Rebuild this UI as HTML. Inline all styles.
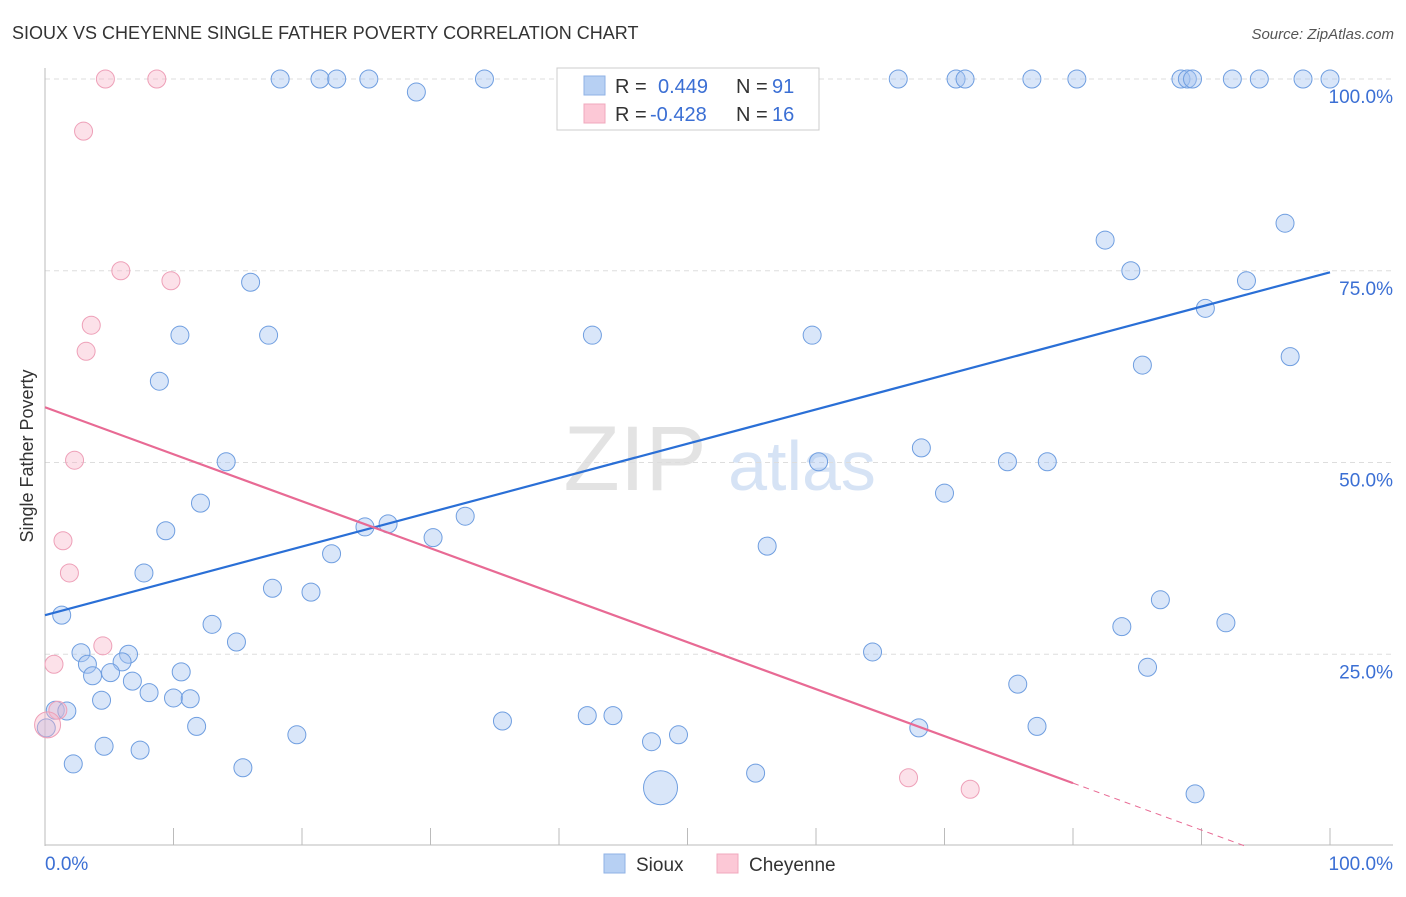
<!DOCTYPE html>
<html><head><meta charset="utf-8"><style>
body{margin:0;background:#fff;font-family:"Liberation Sans",sans-serif}
svg text{font-family:"Liberation Sans",sans-serif}
</style></head><body>
<svg id="c" width="1406" height="892">
<text x="12" y="39" font-size="18" fill="#333">SIOUX VS CHEYENNE SINGLE FATHER POVERTY CORRELATION CHART</text>
<text x="1394" y="39" font-size="15" fill="#555" font-style="italic" text-anchor="end">Source: ZipAtlas.com</text>
<text x="33" y="456" font-size="18" fill="#333" text-anchor="middle" transform="rotate(-90 33 456)">Single Father Poverty</text>
<g><text x="635" y="490" font-size="92" fill="#e3e3e3" font-family="Liberation Serif" text-anchor="middle">ZIP</text><text x="802" y="490" font-size="70" fill="#d6e3f5" text-anchor="middle">atlas</text></g>
<g id="grid"></g><g id="marks"></g>
<g>
<rect x="557" y="68" width="262" height="62" fill="#fff" stroke="#ccc"/>
<rect x="584" y="76" width="21" height="19" fill="#b7d0f3" stroke="#8fb2e6"/>
<rect x="584" y="104" width="21" height="19" fill="#fcc8d6" stroke="#f0a8bd"/>
<text x="615" y="93" font-size="20" fill="#333">R = </text><text x="658" y="93" font-size="20" fill="#3b6fd4">0.449</text>
<text x="736" y="93" font-size="20" fill="#333">N = </text><text x="772" y="93" font-size="20" fill="#3b6fd4">91</text>
<text x="615" y="121" font-size="20" fill="#333">R = </text><text x="650" y="121" font-size="20" fill="#3b6fd4">-0.428</text>
<text x="736" y="121" font-size="20" fill="#333">N = </text><text x="772" y="121" font-size="20" fill="#3b6fd4">16</text>
</g>
<g>
<rect x="604" y="854" width="21" height="19" fill="#b7d0f3" stroke="#8fb2e6"/><text x="636" y="871" font-size="19" fill="#333">Sioux</text>
<rect x="717" y="854" width="21" height="19" fill="#fcc8d6" stroke="#f0a8bd"/><text x="749" y="871" font-size="19" fill="#333">Cheyenne</text>
</g>
</svg>
<script>
const siouxX=[18.3,21.4,22.7,25.2,28.9,34.2,46.5,51.8,66.4,70.9,71.6,76.8,80.3,88.4,88.9,89.3,92.4,94.5,97.9,100,
82.5,96.5,84.5,93.5,90.3,96.9,85.4,16.0,10.5,17.4,42.6,59.7,8.9,
14.1,68.2,60.2,74.9,78.0,70.0,12.1,9.4,32.7,26.7,24.9,30.2,22.3,56.2,7.7,17.7,20.7,86.8,1.3,13.0,14.9,83.8,91.9,
2.8,6.5,3.3,6.0,3.7,5.1,10.6,64.4,85.8,6.8,8.1,10.0,11.3,4.4,75.7,
0.8,1.7,11.8,35.6,42.2,44.2,68.0,77.2,19.6,47.2,49.3,4.6,7.4,0.1,2.2,15.4,55.3,47.9,89.5];
const siouxY=[100,100,100,100,98.3,100,100,100,100,100,100,100,100,100,100,100,100,100,100,100,
79.0,81.2,75.0,73.7,70.1,63.8,62.7,73.5,66.6,66.6,66.6,66.6,60.6,
50.1,51.9,50.1,50.1,50.1,46.0,44.7,41.1,43.0,42.0,41.6,40.2,38.1,39.1,35.6,33.6,33.1,32.1,30.1,28.9,26.6,28.6,29.1,
25.2,25.0,23.7,24.0,22.2,22.6,22.7,25.3,23.3,21.5,20.0,19.3,19.2,19.0,21.1,
17.7,17.6,15.6,16.3,17.0,17.0,15.4,15.6,14.5,13.6,14.5,13.0,12.5,15.4,10.7,10.2,9.5,7.6,6.8];
const siouxBig=[88];
const cheyX=[4.7,8.7,3.0,5.9,9.8,3.6,3.2,2.3,1.4,1.9,4.5,0.7,1.0,0.2,67.2,72.0];
const cheyY=[100,100,93.2,75.0,73.7,67.9,64.5,50.3,39.8,35.6,26.1,23.7,17.7,15.8,8.9,7.4];
const cheyBig=[13];
const yTicks=[25,50,75,100];
const yTickLabels=["25.0%","50.0%","75.0%","100.0%"];
const xTicks=[10,20,30,40,50,60,70,80,90,100];
const siouxTrend=[30.1,0.447];
const cheyTrend=[57.2,-0.6125];
const cheySolidEnd=80;

const X=v=>45+v*12.85, Y=v=>846-v*7.67;
const NS="http://www.w3.org/2000/svg";
function mk(p,t,a){const e=document.createElementNS(NS,t);for(const k in a)e.setAttribute(k,a[k]);p.appendChild(e);return e;}
const g=document.getElementById('grid'), m=document.getElementById('marks');
yTicks.forEach((t,i)=>{
 const l=mk(g,'line',{x1:45,x2:1393,y1:Y(t),y2:Y(t),stroke:'#ddd','stroke-dasharray':'5,4'});
 
 
 const tx=mk(g,'text',{x:1393,y:Y(t)+24,'font-size':19,fill:'#3b6fd4','text-anchor':'end'});
 tx.textContent=yTickLabels[i];
 
 
});
mk(g,'line',{x1:45,x2:45,y1:68,y2:846,stroke:'#bbb'});
mk(g,'line',{x1:45,x2:1393,y1:845,y2:845,stroke:'#bbb'});
xTicks.forEach(t=>{
 const l=mk(g,'line',{x1:X(t),x2:X(t),y1:828,y2:845,stroke:'#bbb'});
 
 
});
const x0=mk(g,'text',{x:45,y:870,'font-size':19,fill:'#3b6fd4'});x0.textContent='0.0%';


const x1=mk(g,'text',{x:1393,y:870,'font-size':19,fill:'#3b6fd4','text-anchor':'end'});x1.textContent='100.0%';


siouxX.forEach((v,i)=>{
 const c=mk(m,'circle',{cx:X(v),cy:Y(siouxY[i]),r:siouxBig.includes(i)?17:9,fill:'rgba(164,196,240,0.42)',stroke:'#6f9ee0','stroke-width':1});
 
 
});
cheyX.forEach((v,i)=>{
 const c=mk(m,'circle',{cx:X(v),cy:Y(cheyY[i]),r:cheyBig.includes(i)?13:9,fill:'rgba(248,180,200,0.4)',stroke:'#eea0b8','stroke-width':1});
 
 
});
const sl=mk(m,'line',{x1:X(0),y1:Y(siouxTrend[0]),x2:X(100),y2:Y(siouxTrend[0]+100*siouxTrend[1]),stroke:'#2a6fd6','stroke-width':2.2});


const cy=v=>cheyTrend[0]+v*cheyTrend[1];
const cl=mk(m,'line',{x1:X(0),y1:Y(cy(0)),x2:X(cheySolidEnd),y2:Y(cy(cheySolidEnd)),stroke:'#e86a94','stroke-width':2.2});


const zeroX=-cheyTrend[0]/cheyTrend[1];
const cd=mk(m,'line',{x1:X(cheySolidEnd),y1:Y(cy(cheySolidEnd)),x2:X(zeroX),y2:Y(0),stroke:'#e86a94','stroke-width':1,'stroke-dasharray':'6,5'});


</script>
</body></html>
